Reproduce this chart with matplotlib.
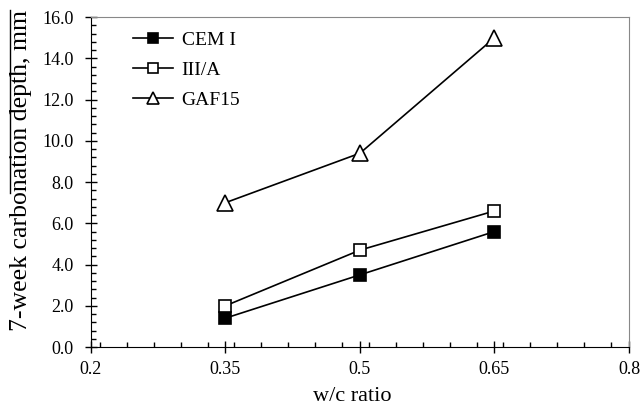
import matplotlib
matplotlib.use("Agg")
import matplotlib.pyplot as plt
from matplotlib.ticker import MultipleLocator, FormatStrFormatter
from matplotlib.lines import Line2D

plt.rcParams['font.family'] = ['Liberation Serif', 'DejaVu Serif']

wc = [0.35, 0.5, 0.65]
cem_i = [1.4, 3.5, 5.6]
iii_a = [2.0, 4.7, 6.6]
gaf15 = [7.0, 9.4, 15.0]
xticks = [0.2, 0.35, 0.5, 0.65, 0.8]
xtick_labels = ['0.2', '0.35', '0.5', '0.65', '0.8']

W, H = 642, 408
fig = plt.figure(figsize=(W / 100, H / 100), dpi=100)
ax = fig.add_axes([0.1417, 0.1495, 0.838, 0.8085])

ax.plot(wc, cem_i, color='black', lw=1.2, marker='s', ms=9, mfc='black', mec='black', mew=1.2, label='CEM I')
ax.plot(wc, iii_a, color='black', lw=1.2, marker='s', ms=9, mfc='white', mec='black', mew=1.2, label='III/A')
ax.plot(wc, gaf15, color='black', lw=1.2, marker='^', ms=11, mfc='white', mec='black', mew=1.2, label='GAF15')

ax.set_xlim(0.2, 0.8)
ax.set_ylim(0, 16)
ax.set_xticks(xticks)
ax.set_xticklabels(xtick_labels)
ax.xaxis.set_minor_locator(MultipleLocator(0.03))
ax.yaxis.set_major_locator(MultipleLocator(2))
ax.yaxis.set_minor_locator(MultipleLocator(0.4))
ax.yaxis.set_major_formatter(FormatStrFormatter('%.1f'))

ax.tick_params(which='major', direction='inout', length=8.6, width=1, labelsize=13, top=False, right=False)
ax.tick_params(which='minor', direction='in', length=3.6, width=1, top=False, right=False)
ax.tick_params(axis='x', which='major', pad=6)
ax.tick_params(axis='y', which='major', pad=8)

for s in ['top', 'right']:
    ax.spines[s].set_color('#888888')
for s in ['left', 'bottom']:
    ax.spines[s].set_color('black')

ax.set_xlabel('w/c ratio', fontsize=16)
ax.set_ylabel('7-week carbonation depth, mm', fontsize=18.5)
ax.xaxis.set_label_coords(0.485, -0.121)
ax.yaxis.set_label_coords(-0.110, 0.536)

# stray overline seen beside the y-axis title in the reference
fig.add_artist(Line2D([10.5 / W, 10.5 / W], [1 - 10 / H, 1 - 193 / H], color='black', lw=1.0))

ax.legend(loc='upper left', bbox_to_anchor=(0.078, 0.958), frameon=False, fontsize=14,
          borderpad=0, borderaxespad=0, markerscale=0.8,
          handlelength=2.05, labelspacing=0.65, handletextpad=0.46)

fig.savefig('out.png', dpi=100)
